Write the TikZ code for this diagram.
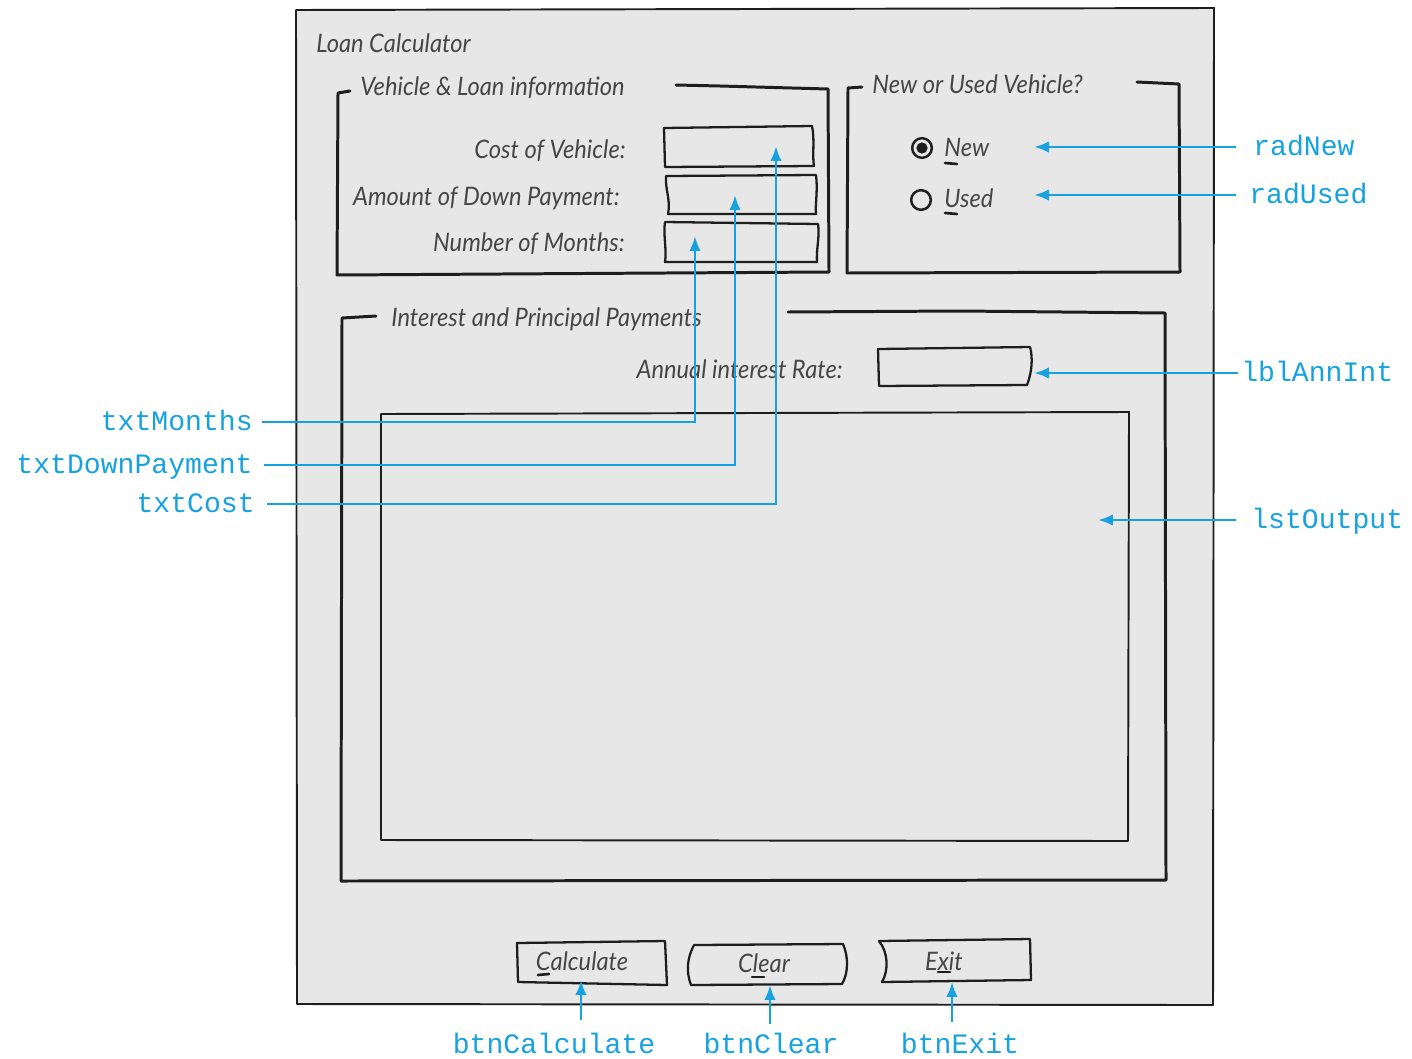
\documentclass[tikz,border=0pt]{standalone}
\usepackage{fontspec}
\newfontfamily\handfont{Lato}[FakeStretch=0.93]
\newfontfamily\codefont{Liberation Mono}
\usetikzlibrary{arrows.meta}
\definecolor{callout}{RGB}{22,162,224}
\definecolor{ink}{RGB}{30,30,30}
\definecolor{penc}{RGB}{70,70,70}
\definecolor{formbg}{RGB}{231,231,231}

\begin{document}
\begin{tikzpicture}[x=0.02cm,y=-0.02cm,
  frame/.style={draw=ink,line width=1.7pt,line cap=round,line join=round},
  thinframe/.style={draw=ink,line width=1.1pt,line cap=round,line join=round},
  boxline/.style={draw=ink,line width=1.3pt,line cap=round,line join=round},
  hand/.style={font=\handfont\itshape\fontsize{14.5}{16}\selectfont,text=penc,inner sep=0pt,text height=10pt,text depth=0pt},
  code/.style={font=\codefont\fontsize{16}{18}\selectfont,text=callout,inner sep=0pt,text height=10pt,text depth=0pt},
  callarrow/.style={draw=callout,line width=1.5pt,-{Latex[length=8.5pt,width=6.5pt]}},
  keymark/.style={draw=ink,line width=1.5pt,line cap=round},
]
\useasboundingbox (0,0) rectangle (1412,1058);
\fill[white] (0,0) rectangle (1412,1058);

% ---- form window ----
\filldraw[fill=formbg,thinframe] (296,10) -- (1214,8) -- (1213,1005) -- (297,1004) -- cycle;
\node[hand,anchor=west] (title) at (316,44) {Loan Calculator};

% ---- vehicle & loan group ----
\node[hand,anchor=west] (vehTitle) at (360,87) {Vehicle \& Loan information};
\draw[frame] (350,91) -- (338,93) -- (337,275) -- (829,272) -- (828,89) -- (720,86) -- (676,85);

\node[hand,anchor=east] (costLbl) at (626,150) {Cost of Vehicle:};
\node[hand,anchor=east] (downLbl) at (620,197) {Amount of Down Payment:};
\node[hand,anchor=east] (monthsLbl) at (625,243) {Number of Months:};

\draw[boxline] (664,128) -- (812,126) .. controls (815,140) and (812,155) .. (814,166) -- (665,167) -- cycle;
\draw[boxline] (666,176) -- (816,175) .. controls (818,190) and (815,205) .. (816,214) -- (668,214) .. controls (671,200) and (665,190) .. (666,176);
\draw[boxline] (665,222) -- (818,224) .. controls (820,236) and (816,250) .. (817,262) -- (665,262) .. controls (667,250) and (663,235) .. (665,222);

% ---- new or used group ----
\node[hand,anchor=west] (nuTitle) at (872,85) {New or Used Vehicle?};
\draw[frame] (862,87) -- (848,88) -- (847,273) -- (1180,272) -- (1179,84) -- (1137,82);

\draw[ink,line width=1.4pt] (922,148) circle[radius=5.6pt];
\fill[ink] (922,148) circle[radius=3.2pt];
\node[hand,anchor=west] (newLbl) at (944,148) {New};
\draw[keymark] (945,163) -- (957,164);

\draw[ink,line width=1.4pt] (921,200) circle[radius=5.6pt];
\node[hand,anchor=west] (usedLbl) at (944,199) {Used};
\draw[keymark] (945,213) -- (957,214);

% ---- interest & principal group ----
\node[hand,anchor=west] (ipTitle) at (391,318) {Interest and Principal Payments};
\draw[frame] (376,316) -- (342,318) -- (341,881) -- (1166,880) -- (1165,313) -- (960,311) -- (788,312);

\node[hand,anchor=east] (rateLbl) at (843,370) {Annual interest Rate:};
\draw[boxline] (878,349) -- (1030,347) .. controls (1033,358) and (1032,372) .. (1027,385) -- (879,386) -- cycle;

\draw[thinframe] (381,414) -- (1129,412) -- (1128,841) -- (381,840) -- cycle;

% ---- buttons ----
\draw[boxline] (517,943) -- (665,941) -- (667,985) -- (518,982) -- cycle;
\node[hand] (calcBtn) at (582,962) {Calculate};
\draw[keymark] (538,975) -- (549,974);

\draw[boxline] (694,945) -- (843,944) .. controls (849,958) and (848,974) .. (842,984) -- (691,985) .. controls (686,972) and (687,958) .. (694,945);
\node[hand] (clearBtn) at (764,964) {Clear};
\draw[keymark] (752,977) -- (764,977);

\draw[boxline] (879,941) -- (1030,939) -- (1031,980) -- (882,982) .. controls (889,970) and (888,952) .. (879,941);
\node[hand] (exitBtn) at (944,962) {Exit};
\draw[keymark] (938,972) -- (950,972);

% ---- callouts: right side ----
\coordinate (newTip) at (1034,147);
\coordinate (usedTip) at (1034,195);
\coordinate (rateTip) at (1034,373);
\coordinate (listTip) at (1098,520);
\node[code,anchor=west] (radNewTag) at (1253,147) {radNew};
\node[code,anchor=west] (radUsedTag) at (1249,195) {radUsed};
\node[code,anchor=west] (annIntTag) at (1241,373) {lblAnnInt};
\node[code,anchor=west] (outTag) at (1251,520) {lstOutput};
\draw[callarrow,shorten <=9.5pt] (radNewTag.west) -- (newTip);
\draw[callarrow,shorten <=7.5pt] (radUsedTag.west) -- (usedTip);
\draw[callarrow,shorten <=1.5pt] (annIntTag.west) -- (rateTip);
\draw[callarrow,shorten <=8.5pt] (outTag.west) -- (listTip);

% ---- callouts: left side ----
\coordinate (monthsTip) at (695,236);
\coordinate (downTip) at (735,195);
\coordinate (costTip) at (776,146);
\node[code,anchor=east] (monthsTag) at (253,422) {txtMonths};
\node[code,anchor=east] (downTag) at (253,465) {txtDownPayment};
\node[code,anchor=east] (costTag) at (255,504) {txtCost};
\draw[callarrow,shorten <=5pt] (monthsTag.east) -| (monthsTip);
\draw[callarrow,shorten <=6.5pt] (downTag.east) -| (downTip);
\draw[callarrow,shorten <=7pt] (costTag.east) -| (costTip);

% ---- callouts: bottom ----
\coordinate (calcTip) at (581,980);
\coordinate (clearTip) at (770,985);
\coordinate (exitTip) at (952,982);
\node[code] (calcTag) at (554,1045) {btnCalculate};
\node[code] (clearTag) at (771,1045) {btnClear};
\node[code] (exitTag) at (960,1045) {btnExit};
\draw[callarrow,shorten <=9pt] (calcTag.north -| calcTip) -- (calcTip);
\draw[callarrow,shorten <=7pt] (clearTag.north -| clearTip) -- (clearTip);
\draw[callarrow,shorten <=8pt] (exitTag.north -| exitTip) -- (exitTip);
\end{tikzpicture}
\end{document}
